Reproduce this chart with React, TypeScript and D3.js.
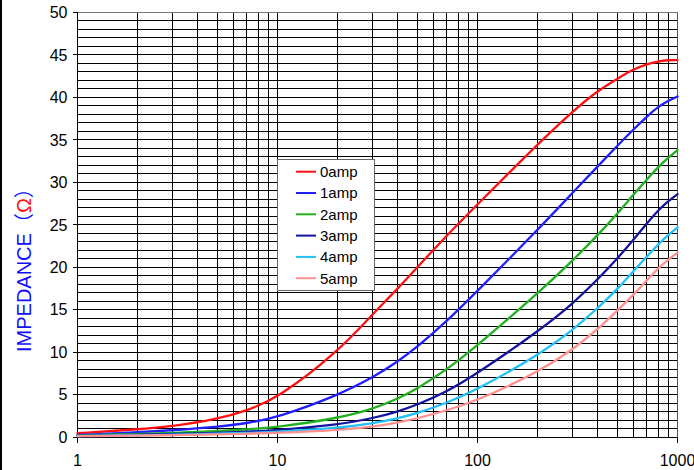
import React from "react";
import * as d3 from "d3";

const freqs = [1, 2, 3, 5, 7, 10, 20, 30, 40, 50, 70, 100, 200, 300, 400, 500, 600, 700, 800, 900, 1000];
const amp0 = [0.45, 0.9, 1.25, 2.1, 3.1, 4.55, 10.0, 14.5, 17.5, 20.0, 23.7, 27.4, 34.5, 38.4, 40.8, 42.2, 43.3, 43.9, 44.25, 44.4, 44.4];
const amp1 = [0.24, 0.55, 0.8, 1.2, 1.6, 2.3, 4.9, 7.0, 8.9, 10.6, 13.6, 17.2, 24.4, 28.8, 31.9, 34.3, 36.2, 37.7, 38.9, 39.6, 40.1];
const amp2 = [0.2, 0.35, 0.47, 0.7, 0.9, 1.15, 2.2, 3.3, 4.5, 5.7, 7.9, 10.8, 16.9, 20.8, 23.8, 26.3, 28.5, 30.3, 31.8, 32.9, 33.8];
const amp3 = [0.15, 0.25, 0.35, 0.5, 0.62, 0.8, 1.45, 2.2, 3.0, 3.8, 5.3, 7.5, 12.4, 15.7, 18.6, 21.0, 23.2, 25.1, 26.7, 27.8, 28.6];
const amp4 = [0.12, 0.2, 0.28, 0.38, 0.48, 0.6, 1.05, 1.6, 2.2, 2.8, 4.0, 5.6, 9.6, 12.6, 15.2, 17.4, 19.5, 21.2, 22.7, 23.8, 24.7];
const amp5 = [0.1, 0.17, 0.22, 0.3, 0.38, 0.48, 0.8, 1.2, 1.7, 2.2, 3.1, 4.3, 7.6, 10.3, 12.7, 14.9, 16.7, 18.4, 19.9, 20.9, 21.7];

const seriesNames = ["0amp", "1amp", "2amp", "3amp", "4amp", "5amp"];
const seriesValues = [amp0, amp1, amp2, amp3, amp4, amp5];
const seriesColors = ["#ff1010", "#2020ff", "#20b020", "#1414a0", "#20c0f8", "#ff9090"];

const yTicks = [0, 5, 10, 15, 20, 25, 30, 35, 40, 45, 50];
const xTicks = [1, 10, 100, 1000];

const W = 694;
const H = 470;
const L = 77.5;
const R = 677.5;
const T = 12.5;
const B = 437;

export default function App() {
  const x = d3.scaleLog().domain([1, 1000]).range([L, R]);
  const y = d3.scaleLinear().domain([0, 50]).range([B, T]);

  const hGrid = d3.range(1, 51);
  const vGrid: number[] = [];
  [1, 10, 100].forEach((dec) => {
    for (let k = 2; k <= 10; k++) vGrid.push(dec * k);
  });

  const line = d3
    .line<[number, number]>()
    .x((d) => x(d[0]))
    .y((d) => y(d[1]))
    .curve(d3.curveBasis);

  const font = "'Liberation Sans', Arial, sans-serif";
  const legX = 277.5;
  const legY = 159.5;
  const legW = 97;
  const legH = 131;
  const rowY = (i: number) => 171.7 + i * 21.3;

  return (
    <svg
      width={W}
      height={H}
      style={{ position: "absolute", left: 0, top: 0, background: "#fff" }}
    >
      <rect x={0} y={0} width={W} height={H} fill="#fff" />
      <rect x={0} y={0} width={2} height={H} fill="#000" />
      <g shapeRendering="crispEdges" stroke="#000" strokeWidth={1}>
        {hGrid.map((v) => (
          <line key={"h" + v} x1={L} x2={R} y1={y(v)} y2={y(v)} stroke={v === 50 ? "#777" : "#000"} />
        ))}
        {vGrid.map((v) => (
          <line key={"v" + v} x1={x(v)} x2={x(v)} y1={T} y2={B} stroke={v === 1000 ? "#555" : "#000"} />
        ))}
        <line x1={L} x2={L} y1={T} y2={B} />
        <line x1={L} x2={R} y1={B} y2={B} />
        {yTicks.map((v) => (
          <line key={"yt" + v} x1={L - 5} x2={L} y1={y(v)} y2={y(v)} />
        ))}
        {xTicks.map((v) => (
          <line key={"xt" + v} x1={x(v)} x2={x(v)} y1={B} y2={B + 6} />
        ))}
      </g>
      <g fontFamily={font} fontSize={16} fill="#000">
        {yTicks.map((v) => (
          <text key={"yl" + v} x={L - 10} y={y(v)} dy="0.36em" textAnchor="end">
            {v}
          </text>
        ))}
        {xTicks.map((v) => (
          <text key={"xl" + v} x={x(v)} y={466} textAnchor="middle">
            {v}
          </text>
        ))}
      </g>
      <g fill="none" strokeWidth={2.3} strokeLinejoin="round" strokeLinecap="round">
        {seriesValues.map((vals, i) => (
          <path
            key={seriesNames[i]}
            d={line(freqs.map((f, j) => [f, vals[j]] as [number, number])) || ""}
            stroke={seriesColors[i]}
          />
        ))}
      </g>
      <g>
        <rect
          x={legX}
          y={legY}
          width={legW}
          height={legH}
          fill="#fff"
          stroke="#666"
          strokeWidth={1}
          shapeRendering="crispEdges"
        />
        {seriesNames.map((n, i) => (
          <g key={"lg" + n}>
            <line x1={296} x2={316} y1={rowY(i)} y2={rowY(i)} stroke={seriesColors[i]} strokeWidth={2} />
            <text x={320} y={rowY(i)} dy="0.36em" fontFamily={font} fontSize={15} fill="#000">
              {n}
            </text>
          </g>
        ))}
      </g>
      <text
        transform="translate(31,352) rotate(-90)"
        fontFamily="'Liberation Sans', Arial, 'Noto Sans CJK SC', sans-serif"
        fontSize={20}
        fill="#1010ff"
      >
        <tspan>IMPEDANCE</tspan>
        <tspan fontFamily="'Noto Sans CJK SC', sans-serif">（</tspan>
        <tspan fill="#ff1010">Ω</tspan>
        <tspan fontFamily="'Noto Sans CJK SC', sans-serif">）</tspan>
      </text>
    </svg>
  );
}
